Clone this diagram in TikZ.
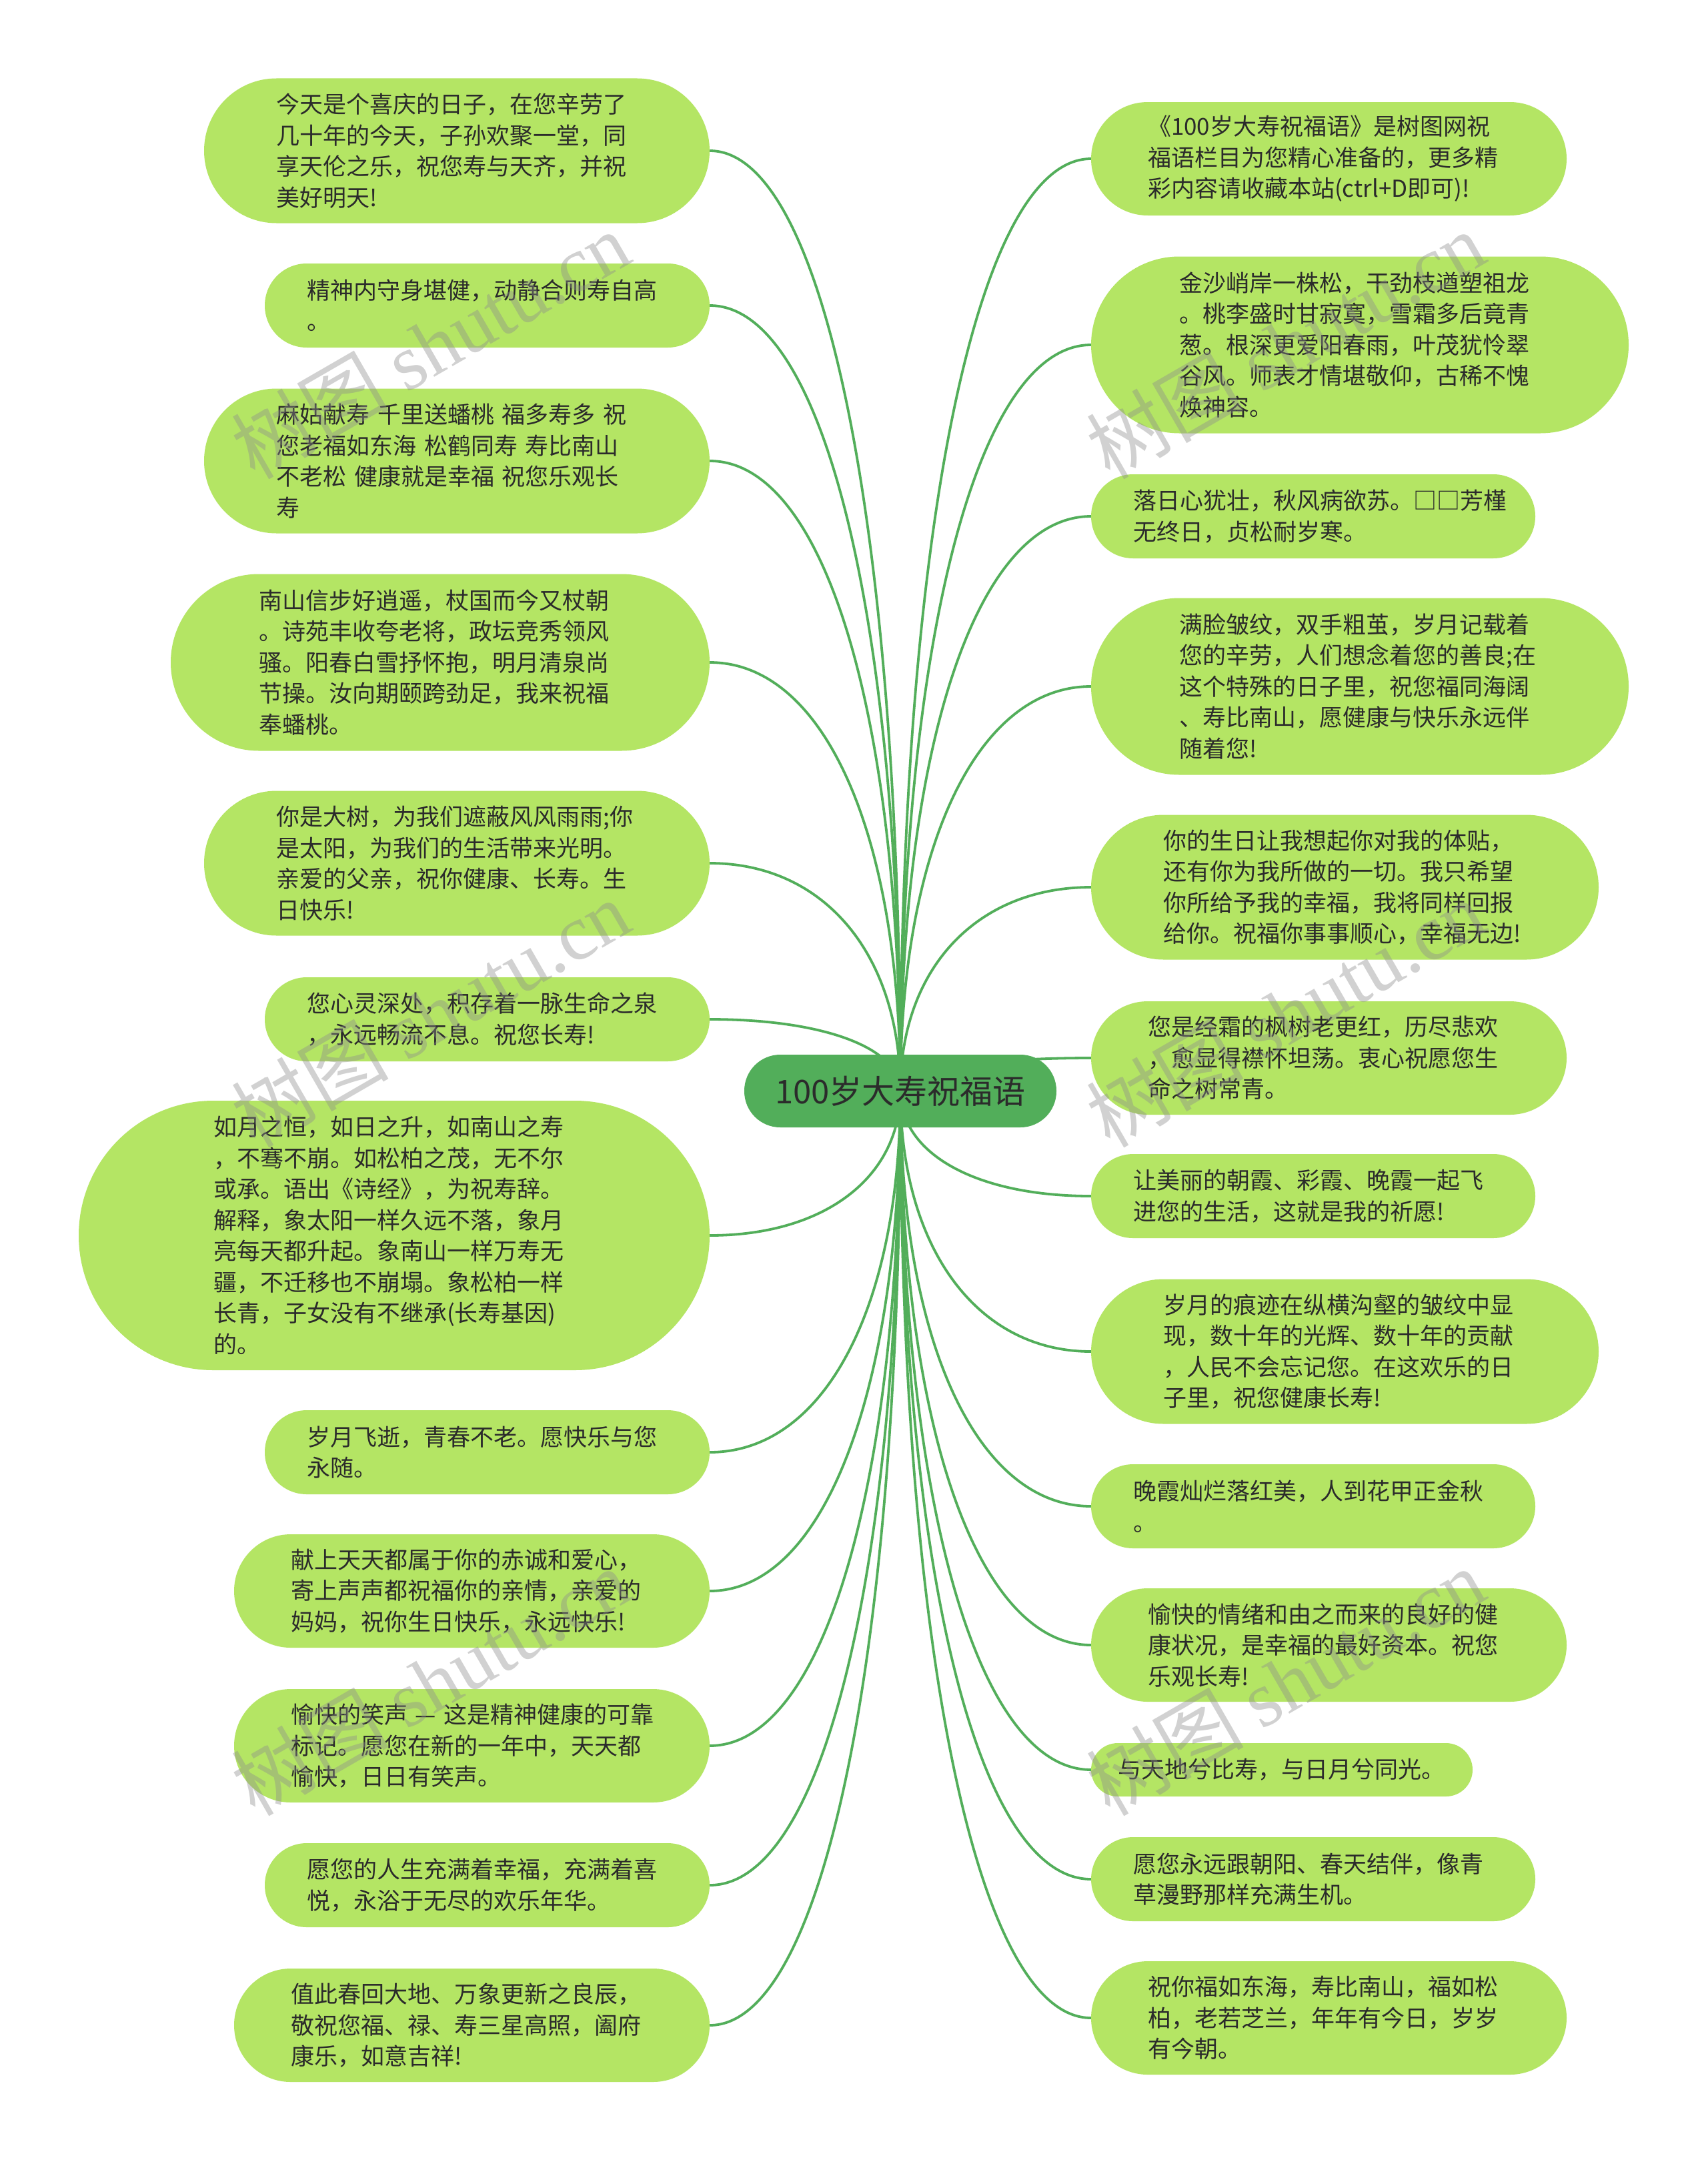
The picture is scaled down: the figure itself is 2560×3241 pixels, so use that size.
\documentclass[tikz,border=0pt]{standalone}
\usepackage{fontspec}
\setmainfont{Noto Sans CJK SC}
\newfontfamily\wmlatin{Liberation Serif}
\usetikzlibrary{calc}
\definecolor{leafc}{HTML}{B4E564}
\definecolor{rootc}{HTML}{52AE5A}
\definecolor{linec}{HTML}{52AE5A}
\definecolor{txtc}{HTML}{2B2B2B}
\definecolor{wmc}{HTML}{8C8C8C}
\pgfdeclarelayer{back}
\pgfdeclarelayer{bg}
\pgfdeclarelayer{front}
\pgfsetlayers{back,bg,main,front}
\tikzset{
  leafbox/.style={fill=leafc, draw=none, inner sep=0pt, align=left, text=txtc,
    font=\fontsize{35}{46.5}\selectfont},
  rootbox/.style={fill=rootc, draw=none, inner sep=0pt, text=txtc,
    font=\fontsize{49}{56}\selectfont},
  conn/.style={draw=linec, line width=3.8pt},
  wm/.style={text=wmc, opacity=0.4, rotate=30, inner sep=0pt,
    font=\fontsize{118}{120}\selectfont}
}
\newcommand\leafnode[6]{%
  \pgfmathsetmacro\tw{#4-#5}%
  \pgfmathsetmacro\rr{#5/2-0.05}%
  \node[leafbox, minimum width=#4pt, minimum height=#5pt, text width=\tw pt,
    rounded corners=\rr pt] (#1) at (#2,#3) {#6};%
}
\newcommand\conn[2]{%
  \coordinate (k) at (c.center |- #1.#2);
  \draw[conn] (c.center) .. controls ($(c.center)!0.6!(k)$) and ($(k)!0.4!(#1.#2)$) .. (#1.#2);
}
\begin{document}
\begin{tikzpicture}[x=1pt, y=-1pt]
\useasboundingbox (0,0) rectangle (2560,3241);
\begin{pgfonlayer}{back}
\fill[white] (0,0) rectangle (2560,3241);
\end{pgfonlayer}

% root
\node[rootbox, minimum width=468pt, minimum height=109pt, rounded corners=54pt] (c) at (1350,1635.5) {100岁大寿祝福语};

% left nodes
\leafnode{L1}{685}{226}{758}{217}{今天是个喜庆的日子，在您辛劳了\\几十年的今天，子孙欢聚一堂，同\\享天伦之乐，祝您寿与天齐，并祝\\美好明天!}
\leafnode{L2}{730.5}{458}{667}{126}{精神内守身堪健，动静合则寿自高\\。}
\leafnode{L3}{685}{691}{758}{217}{麻姑献寿~千里送蟠桃~福多寿多~祝\\您老福如东海~松鹤同寿~寿比南山\\不老松~健康就是幸福~祝您乐观长\\寿}
\leafnode{L4}{660}{993}{808}{265}{南山信步好逍遥，杖国而今又杖朝\\。诗苑丰收夸老将，政坛竞秀领风\\骚。阳春白雪抒怀抱，明月清泉尚\\节操。汝向期颐跨劲足，我来祝福\\奉蟠桃。}
\leafnode{L5}{685}{1294}{758}{217}{你是大树，为我们遮蔽风风雨雨;你\\是太阳，为我们的生活带来光明。\\亲爱的父亲，祝你健康、长寿。生\\日快乐!}
\leafnode{L6}{730.5}{1528}{667}{126}{您心灵深处，积存着一脉生命之泉\\，永远畅流不息。祝您长寿!}
\leafnode{L7}{591}{1852}{946}{404}{如月之恒，如日之升，如南山之寿\\，不骞不崩。如松柏之茂，无不尔\\或承。语出《诗经》，为祝寿辞。\\解释，象太阳一样久远不落，象月\\亮每天都升起。象南山一样万寿无\\疆，不迁移也不崩塌。象松柏一样\\长青，子女没有不继承(长寿基因)\\的。}
\leafnode{L8}{730.5}{2177}{667}{126}{岁月飞逝，青春不老。愿快乐与您\\永随。}
\leafnode{L9}{707.5}{2385}{713}{170}{献上天天都属于你的赤诚和爱心，\\寄上声声都祝福你的亲情，亲爱的\\妈妈，祝你生日快乐，永远快乐!}
\leafnode{L10}{707.5}{2617}{713}{170}{\mbox{愉快的笑声 — 这是精神健康的可靠}\\标记。愿您在新的一年中，天天都\\愉快，日日有笑声。}
\leafnode{L11}{730.5}{2826}{667}{126}{愿您的人生充满着幸福，充满着喜\\悦，永浴于无尽的欢乐年华。}
\leafnode{L12}{707.5}{3036}{713}{170}{值此春回大地、万象更新之良辰，\\敬祝您福、禄、寿三星高照，阖府\\康乐，如意吉祥!}

% right nodes
\leafnode{R1}{1992.5}{238}{713}{170}{《100岁大寿祝福语》是树图网祝\\福语栏目为您精心准备的，更多精\\彩内容请收藏本站(ctrl+D即可)!}
\leafnode{R2}{2039}{517}{806}{265}{金沙峭岸一株松，干劲枝遒塑祖龙\\。桃李盛时甘寂寞，雪霜多后竟青\\葱。根深更爱阳春雨，叶茂犹怜翠\\谷风。师表才情堪敬仰，古稀不愧\\焕神容。}
\leafnode{R3}{1969}{774}{666}{126}{落日心犹壮，秋风病欲苏。□□芳槿\\无终日，贞松耐岁寒。}
\leafnode{R4}{2039}{1029}{806}{265}{满脸皱纹，双手粗茧，岁月记载着\\您的辛劳，人们想念着您的善良;在\\这个特殊的日子里，祝您福同海阔\\、寿比南山，愿健康与快乐永远伴\\随着您!}
\leafnode{R5}{2016.5}{1330}{761}{217}{你的生日让我想起你对我的体贴，\\还有你为我所做的一切。我只希望\\你所给予我的幸福，我将同样回报\\给你。祝福你事事顺心，幸福无边!}
\leafnode{R6}{1992.5}{1586}{713}{170}{您是经霜的枫树老更红，历尽悲欢\\，愈显得襟怀坦荡。衷心祝愿您生\\命之树常青。}
\leafnode{R7}{1969}{1793}{666}{126}{让美丽的朝霞、彩霞、晚霞一起飞\\进您的生活，这就是我的祈愿!}
\leafnode{R8}{2016.5}{2026}{761}{217}{岁月的痕迹在纵横沟壑的皱纹中显\\现，数十年的光辉、数十年的贡献\\，人民不会忘记您。在这欢乐的日\\子里，祝您健康长寿!}
\leafnode{R9}{1969}{2258}{666}{126}{晚霞灿烂落红美，人到花甲正金秋\\。}
\leafnode{R10}{1992.5}{2466}{713}{170}{愉快的情绪和由之而来的良好的健\\康状况，是幸福的最好资本。祝您\\乐观长寿!}
\leafnode{R11}{1922}{2653}{572}{80}{与天地兮比寿，与日月兮同光。}
\leafnode{R12}{1969}{2817}{666}{126}{愿您永远跟朝阳、春天结伴，像青\\草漫野那样充满生机。}
\leafnode{R13}{1992.5}{3025}{713}{170}{祝你福如东海，寿比南山，福如松\\柏，老若芝兰，年年有今日，岁岁\\有今朝。}

% connectors
\begin{pgfonlayer}{bg}
\foreach \n in {L1,L2,L3,L4,L5,L6,L7,L8,L9,L10,L11,L12} {\conn{\n}{east}}
\foreach \n in {R1,R2,R3,R4,R5,R6,R7,R8,R9,R10,R11,R12,R13} {\conn{\n}{west}}
\end{pgfonlayer}

% watermarks
\begin{pgfonlayer}{front}
\node[wm] (w1) at (645,517) {树图~{\wmlatin shutu.cn}};
\node[wm] (w2) at (1927,517) {树图~{\wmlatin shutu.cn}};
\node[wm] (w3) at (645,1519) {树图~{\wmlatin shutu.cn}};
\node[wm] (w4) at (1927,1519) {树图~{\wmlatin shutu.cn}};
\node[wm] (w5) at (645,2521) {树图~{\wmlatin shutu.cn}};
\node[wm] (w6) at (1927,2521) {树图~{\wmlatin shutu.cn}};
\end{pgfonlayer}
\end{tikzpicture}
\end{document}
